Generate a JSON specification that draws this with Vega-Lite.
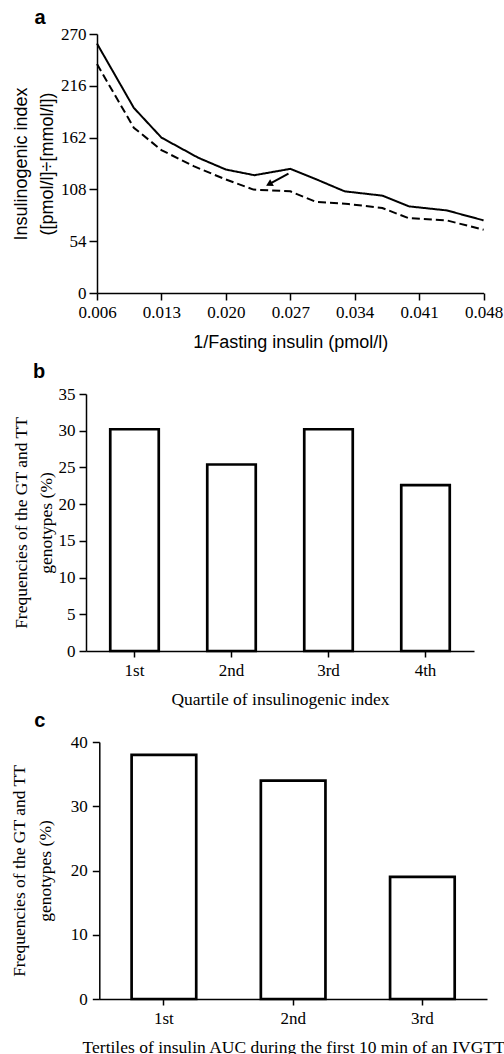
{
  "$schema": "https://vega.github.io/schema/vega-lite/v6.json",
  "background": "white",
  "padding": {"left": 10, "top": 8, "right": 0, "bottom": 0},
  "datasets": {
    "curves": [
      {"series": "solid", "x": 0.006, "y": 260},
      {"series": "solid", "x": 0.010, "y": 193},
      {"series": "solid", "x": 0.013, "y": 162},
      {"series": "solid", "x": 0.017, "y": 141},
      {"series": "solid", "x": 0.020, "y": 128.7},
      {"series": "solid", "x": 0.0231, "y": 122.8},
      {"series": "solid", "x": 0.027, "y": 129.4},
      {"series": "solid", "x": 0.0297, "y": 119},
      {"series": "solid", "x": 0.0329, "y": 106},
      {"series": "solid", "x": 0.037, "y": 101.5},
      {"series": "solid", "x": 0.0399, "y": 90.3},
      {"series": "solid", "x": 0.044, "y": 86.1},
      {"series": "solid", "x": 0.048, "y": 75.7},
      {"series": "dashed", "x": 0.006, "y": 238.6},
      {"series": "dashed", "x": 0.010, "y": 172.3},
      {"series": "dashed", "x": 0.013, "y": 149},
      {"series": "dashed", "x": 0.0165, "y": 132.2},
      {"series": "dashed", "x": 0.020, "y": 118.3},
      {"series": "dashed", "x": 0.023, "y": 107.8},
      {"series": "dashed", "x": 0.027, "y": 106},
      {"series": "dashed", "x": 0.0298, "y": 94.9},
      {"series": "dashed", "x": 0.0333, "y": 92.8},
      {"series": "dashed", "x": 0.037, "y": 88.6},
      {"series": "dashed", "x": 0.0398, "y": 78.2},
      {"series": "dashed", "x": 0.044, "y": 75.7},
      {"series": "dashed", "x": 0.048, "y": 65.9}
    ],
    "arrow": [
      {"x1": 0.0268, "y1": 124.5, "x2": 0.0248, "y2": 114}
    ],
    "quartiles": [
      {"quartile": "1st", "freq": 30.2},
      {"quartile": "2nd", "freq": 25.4},
      {"quartile": "3rd", "freq": 30.2},
      {"quartile": "4th", "freq": 22.6}
    ],
    "tertiles": [
      {"tertile": "1st", "freq": 38.0},
      {"tertile": "2nd", "freq": 34.0},
      {"tertile": "3rd", "freq": 19.0}
    ]
  },
  "config": {
    "view": {"stroke": null},
    "axis": {
      "domainColor": "black",
      "domainWidth": 1.5,
      "tickColor": "black",
      "tickWidth": 1.5,
      "labelColor": "black",
      "titleColor": "black",
      "grid": false,
      "labelFont": "Liberation Serif",
      "labelFontSize": 17,
      "titleFont": "Liberation Serif",
      "titleFontSize": 17.5,
      "titleFontWeight": "normal",
      "labelOverlap": false,
      "labelFlush": false
    },
    "title": {"font": "Liberation Sans", "fontSize": 20, "fontWeight": "bold", "anchor": "start", "color": "black"}
  },
  "columns": 1,
  "align": "none",
  "spacing": 3,
  "concat": [
    {
      "columns": 1,
      "align": "none",
      "spacing": 11,
      "concat": [
        {
          "title": {"text": "a", "dx": 22, "offset": -3},
          "width": 398,
          "height": 259,
          "layer": [
            {
              "data": {"name": "curves"},
              "mark": {"type": "line", "color": "black", "strokeWidth": 2},
              "encoding": {
                "x": {
                  "field": "x", "type": "quantitative",
                  "scale": {"domain": [0.006, 0.048], "nice": false, "zero": false, "range": [11, 397.6]},
                  "axis": {
                    "values": [0.006, 0.013, 0.020, 0.027, 0.034, 0.041, 0.048],
                    "format": ".3f",
                    "title": "1/Fasting insulin (pmol/l)",
                    "titleFont": "Liberation Sans",
                    "titleFontSize": 18,
                    "tickSize": 7,
                    "labelPadding": 4,
                    "titlePadding": 13
                  }
                },
                "y": {
                  "field": "y", "type": "quantitative",
                  "scale": {"domain": [0, 270], "nice": false},
                  "axis": {
                    "values": [0, 54, 108, 162, 216, 270],
                    "title": ["Insulinogenic index", "([pmol/l]÷[mmol/l])"],
                    "titleFont": "Liberation Sans",
                    "titleFontSize": 18,
                    "titleLineHeight": 26,
                    "tickSize": 8,
                    "labelPadding": 3,
                    "titlePadding": 4,
                    "offset": -11
                  }
                },
                "strokeDash": {
                  "field": "series", "type": "nominal",
                  "scale": {"domain": ["solid", "dashed"], "range": [[1, 0], [8, 4]]},
                  "legend": null
                }
              }
            },
            {
              "data": {"name": "arrow"},
              "mark": {"type": "rule", "color": "black", "strokeWidth": 2},
              "encoding": {
                "x": {"field": "x1", "type": "quantitative"},
                "y": {"field": "y1", "type": "quantitative"},
                "x2": {"field": "x2"},
                "y2": {"field": "y2"}
              }
            },
            {
              "data": {"name": "arrow"},
              "mark": {"type": "point", "shape": "triangle", "filled": true, "color": "black", "opacity": 1, "size": 60, "angle": 241},
              "encoding": {
                "x": {"field": "x2", "type": "quantitative"},
                "y": {"field": "y2", "type": "quantitative"}
              }
            }
          ]
        },
        {
          "title": {"text": "b", "dx": 21, "offset": 3},
          "data": {"name": "quartiles"},
          "width": 388,
          "height": 257,
          "mark": {"type": "bar", "fill": "white", "stroke": "black", "strokeWidth": 2.7},
          "encoding": {
            "x": {
              "field": "quartile", "type": "ordinal", "sort": null,
              "scale": {"paddingInner": 0.5, "paddingOuter": 0.25},
              "axis": {"labelAngle": 0, "title": "Quartile of insulinogenic index", "tickSize": 6, "labelPadding": 5, "titlePadding": 12}
            },
            "y": {
              "field": "freq", "type": "quantitative",
              "scale": {"domain": [0, 35], "nice": false},
              "axis": {
                "values": [0, 5, 10, 15, 20, 25, 30, 35],
                "title": ["Frequencies of the GT and TT", "genotypes (%)"],
                "titleLineHeight": 25,
                "tickSize": 7, "labelPadding": 4, "titlePadding": 3
              }
            }
          }
        }
      ]
    },
    {
      "title": {"text": "c", "dx": 24, "offset": 2},
      "data": {"name": "tertiles"},
      "width": 401,
      "height": 257,
      "mark": {"type": "bar", "fill": "white", "stroke": "black", "strokeWidth": 2.7},
      "encoding": {
        "x": {
          "field": "tertile", "type": "ordinal", "sort": null,
          "scale": {"paddingInner": 0.5, "paddingOuter": 0.25, "range": [13.3, 401]},
          "axis": {"labelAngle": 0, "title": "Tertiles of insulin AUC during the first 10 min of an IVGTT", "tickSize": 6, "labelPadding": 5, "titlePadding": 12}
        },
        "y": {
          "field": "freq", "type": "quantitative",
          "scale": {"domain": [0, 40], "nice": false},
          "axis": {
            "values": [0, 10, 20, 30, 40],
            "title": ["Frequencies of the GT and TT", "genotypes (%)"],
            "titleLineHeight": 26,
            "tickSize": 7, "labelPadding": 5, "titlePadding": 16,
            "offset": -13.3
          }
        }
      }
    }
  ]
}
